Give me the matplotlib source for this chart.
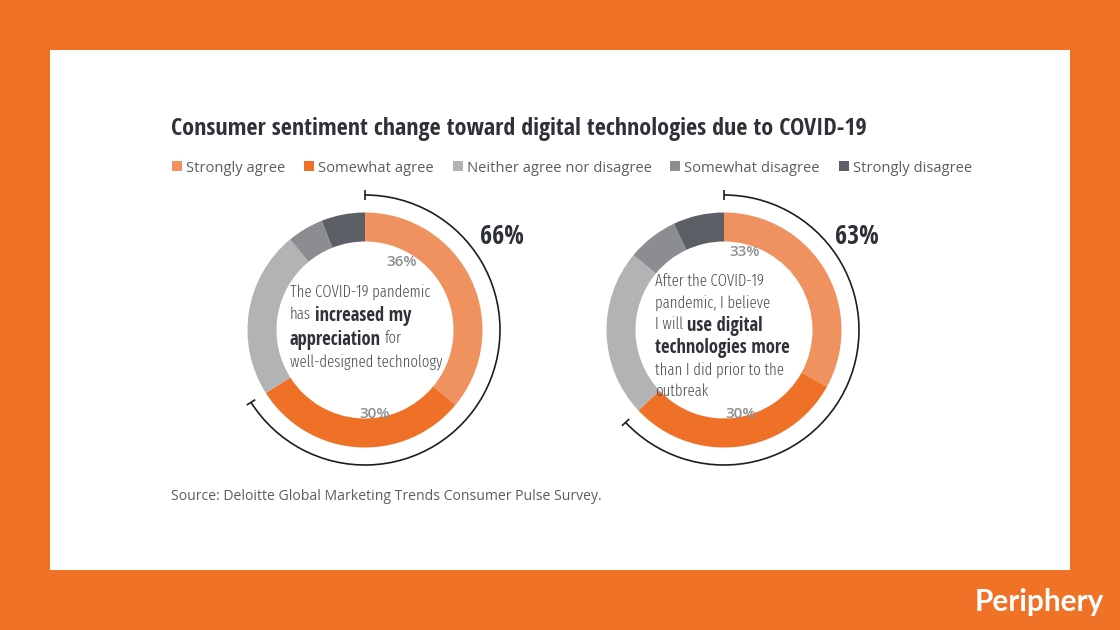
import matplotlib
matplotlib.use('Agg')
import matplotlib.pyplot as plt
from matplotlib.patches import Arc, Rectangle
from matplotlib import font_manager as fm
import numpy as np

# ---------------- data ----------------
categories = ['Strongly agree', 'Somewhat agree', 'Neither agree nor disagree',
              'Somewhat disagree', 'Strongly disagree']
appreciation = [36, 30, 23, 5, 6]
use_more = [33, 30, 23, 7, 7]
agree_totals = [66, 63]
seg_colors = ['#F0925F', '#EE7127', '#B1B3B4', '#8B8D90', '#5C5F66']
title = 'Consumer sentiment change toward digital technologies due to COVID-19'
source = 'Source: Deloitte Global Marketing Trends Consumer Pulse Survey.'
brand = 'Periphery'

# ---------------- fonts ----------------
ttf = fm.fontManager.ttflist


def has(name, maxw=1000, minw=0):
    return any(f.name == name and minw <= int(f.weight) <= maxw for f in ttf)


if has('Open Sans Condensed', minw=600):
    CB = dict(fontfamily='Open Sans Condensed', fontweight='bold')
elif has('Fira Sans Condensed'):
    CB = dict(fontfamily='Fira Sans Condensed', fontweight=600)
else:
    CB = dict(fontfamily='DejaVu Sans', fontstretch='condensed', fontweight='bold')

if has('Open Sans Condensed', maxw=400):
    CL = dict(fontfamily='Open Sans Condensed', fontweight=300)
elif has('Fira Sans Extra Condensed'):
    CL = dict(fontfamily='Fira Sans Extra Condensed', fontweight=300)
elif has('Fira Sans Condensed'):
    CL = dict(fontfamily='Fira Sans Condensed', fontweight=300)
else:
    CL = dict(fontfamily='DejaVu Sans', fontstretch='condensed', fontweight='normal')
REG = dict(fontfamily='Open Sans')

W, H = 1120, 630
fig = plt.figure(figsize=(11.2, 6.3), dpi=100, facecolor='#F07226')
ax = fig.add_axes([0, 0, 1, 1])


def Y(y):
    return H - y


ax.add_patch(Rectangle((50, Y(570)), 1020, 520, facecolor='white', edgecolor='none', zorder=0))

centers = [(365, 330), (724, 330)]
R_OUT, RING, R_ARC = 117.5, 29, 135
for vals, (cx, cy) in zip([appreciation, use_more], centers):
    ax.pie(vals, colors=seg_colors, startangle=90, counterclock=False,
           radius=R_OUT, center=(cx, Y(cy)), frame=True,
           wedgeprops=dict(width=RING, linewidth=0))

for tot, (cx, cy) in zip(agree_totals, centers):
    span = tot / 100 * 360
    ax.add_patch(Arc((cx, Y(cy)), 2 * R_ARC, 2 * R_ARC, theta1=90 - span, theta2=90,
                     lw=1.2, color='#1E1E1E'))
    for ang in (90, 90 - span):
        a = np.deg2rad(ang)
        ax.plot([cx + (R_ARC - 5) * np.cos(a), cx + (R_ARC + 5) * np.cos(a)],
                [Y(cy) + (R_ARC - 5) * np.sin(a), Y(cy) + (R_ARC + 5) * np.sin(a)],
                color='#1E1E1E', lw=1.2, solid_capstyle='butt')

ax.set_xlim(0, W)
ax.set_ylim(0, H)
ax.set_aspect('equal')
ax.set_axis_off()

fig.canvas.draw()
renderer = fig.canvas.get_renderer()


def text_w(s, **kw):
    t = ax.text(0, 0, s, **kw)
    w = t.get_window_extent(renderer).width
    t.remove()
    return w


def fit(s, target, **kw):
    return 10 * target / text_w(s, fontsize=10, **kw)


# title
ts = fit(title, 697, **CB)
ax.text(171, Y(126), title, fontsize=ts, color='#2F3138',
        ha='left', va='center_baseline', **CB)

# legend
leg_sq_x = [172, 304, 453, 670, 839]
ls = fit(categories[0], 99, **REG)
for x, lab, c in zip(leg_sq_x, categories, seg_colors):
    ax.add_patch(Rectangle((x, Y(171)), 10, 10, facecolor=c, edgecolor='none'))
    ax.text(x + 14, Y(166), lab, fontsize=ls, color='#5A5D63', ha='left',
            va='center_baseline', **REG)

# inner percent labels
inner_pos = [[(402, 261), (375, 413)], [(745, 250), (741, 413)]]
for vals, poss in zip([appreciation, use_more], inner_pos):
    for v, (x, y) in zip(vals[:2], poss):
        ax.text(x, Y(y), f'{v}%', fontsize=11, fontweight='semibold', color='#8C8E91',
                ha='center', va='center_baseline', **REG)

# big totals
big_pos = [(502, 233), (857, 233)]
bs = fit('66%', 44, **CB)
for tot, (x, y) in zip(agree_totals, big_pos):
    ax.text(x, Y(y), f'{tot}%', fontsize=bs, color='#2F3138',
            ha='center', va='center_baseline', **CB)

# center rich text
LIGHT_C, BOLD_C = '#4A4D55', '#2F3138'
left_lines = [[('The COVID-19 pandemic', False)],
              [('has', False), ('increased my', True)],
              [('appreciation', True), ('for', False)],
              [('well-designed technology', False)]]
right_lines = [[('After the COVID-19', False)],
               [('pandemic, I believe', False)],
               [('I will', False), ('use digital', True)],
               [('technologies more', True)],
               [('than I did prior to the', False)],
               [('outbreak', False)]]
csb = fit('technologies more', 135, **CB)
cs = min(fit('well-designed technology', 153, **CL), csb * 1.05)


def rich(x0, y, parts):
    x = x0
    sp = text_w('a a', fontsize=cs, **CL) - text_w('aa', fontsize=cs, **CL)
    for i, (s, b) in enumerate(parts):
        if i:
            x += sp
        kw = CB if b else CL
        t = ax.text(x, Y(y), s, fontsize=csb if b else cs,
                    color=BOLD_C if b else LIGHT_C, ha='left', va='center_baseline', **kw)
        x += t.get_window_extent(renderer).width


for parts, y in zip(left_lines, [290, 313, 337, 360]):
    rich(290, y, parts)
for parts, y in zip(right_lines, [280, 301, 323, 345, 368, 390]):
    rich(655, y, parts)

# source
ss = fit(source, 428, **REG)
ax.text(171, Y(495), source, fontsize=ss, color='#5A5D63', ha='left',
        va='center_baseline', **REG)

# brand
bs2 = fit(brand, 130, fontweight='bold', fontfamily='Lato')
ax.text(975, Y(600), brand, fontsize=bs2, fontweight='bold', fontfamily='Lato',
        color='white', ha='left', va='center_baseline')

fig.savefig('out.png', dpi=100, facecolor=fig.get_facecolor())
